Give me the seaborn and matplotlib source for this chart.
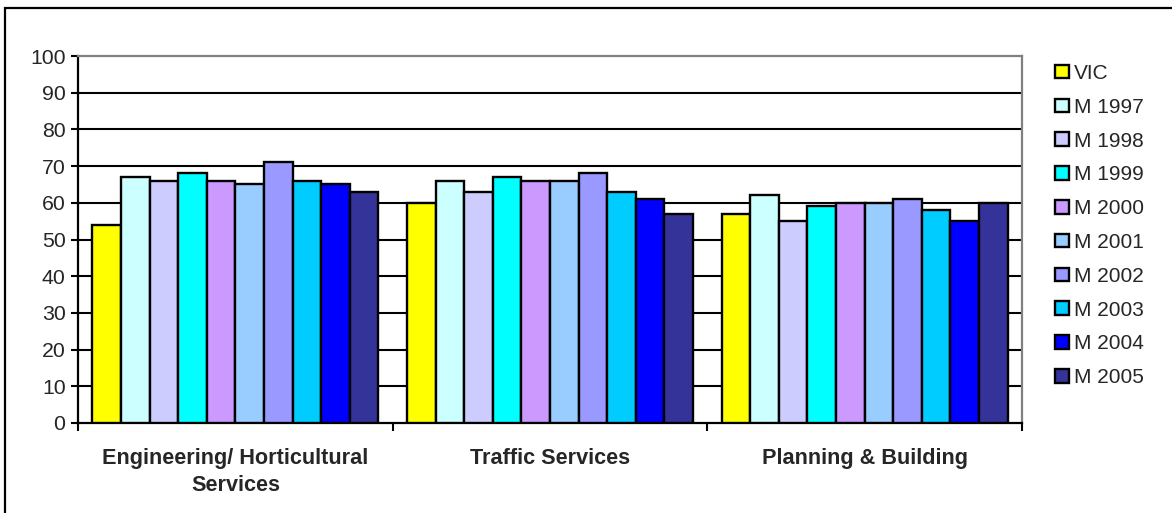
import matplotlib
matplotlib.use("Agg")
import matplotlib.pyplot as plt
from matplotlib.patches import Rectangle
import seaborn as sns
import pandas as pd

# Service categories (x axis) and survey series (hue)
categories = ["Engineering/ Horticultural\nServices", "Traffic Services", "Planning & Building"]
series = ["VIC", "M 1997", "M 1998", "M 1999", "M 2000",
          "M 2001", "M 2002", "M 2003", "M 2004", "M 2005"]

# Scores per series, one value per category
vic = [54, 60, 57]
m1997 = [67, 66, 62]
m1998 = [66, 63, 55]
m1999 = [68, 67, 59]
m2000 = [66, 66, 60]
m2001 = [65, 66, 60]
m2002 = [71, 68, 61]
m2003 = [66, 63, 58]
m2004 = [65, 61, 55]
m2005 = [63, 57, 60]

colors = ["#FFFF00", "#CCFFFF", "#CCCCFF", "#00FFFF", "#CC99FF",
          "#99CCFF", "#9999FF", "#00CCFF", "#0000FF", "#333399"]

y_ticks = [0, 10, 20, 30, 40, 50, 60, 70, 80, 90, 100]

values = [vic, m1997, m1998, m1999, m2000, m2001, m2002, m2003, m2004, m2005]
rows = []
for name, vals in zip(series, values):
    for cat, v in zip(categories, vals):
        rows.append({"category": cat, "series": name, "value": v})
df = pd.DataFrame(rows)

sns.set_theme(style="white")
plt.rcParams["font.family"] = ["Liberation Sans", "DejaVu Sans"]

W, H = 1172, 513
fig = plt.figure(figsize=(W / 100, H / 100), dpi=100)
fig.patch.set_facecolor("white")

left, right, top, bottom = 78, 1022, 56, 423
ax = fig.add_axes([left / W, 1 - bottom / H, (right - left) / W, (bottom - top) / H])

sns.barplot(data=df, x="category", y="value", hue="series", order=categories,
            hue_order=series, palette=colors, saturation=1, width=10 / 11,
            edgecolor="black", linewidth=1.7, ax=ax, legend=True, zorder=3)

ax.set_ylim(0, 100)
ax.set_xlim(-0.5, 2.5)
ax.set_yticks(y_ticks)
ax.set_xlabel("")
ax.set_ylabel("")

# horizontal gridlines
for v in y_ticks[1:-1]:
    ax.axhline(v, color="black", lw=1.5, zorder=1)

ax.spines["left"].set_color("black")
ax.spines["bottom"].set_color("black")
ax.spines["left"].set_linewidth(1.6)
ax.spines["bottom"].set_linewidth(1.6)
ax.spines["top"].set_color("#808080")
ax.spines["right"].set_color("#808080")
ax.spines["top"].set_linewidth(1.6)
ax.spines["right"].set_linewidth(1.6)
ax.spines["top"].set_zorder(5)

ax.tick_params(axis="y", which="major", direction="out", length=5, width=1.5,
               color="black", labelsize=15.3, pad=4, left=True)
ax.set_xticks([0, 1, 2])
ax.set_xticklabels(categories, fontsize=15.6, fontweight="bold", linespacing=1.4)
ax.tick_params(axis="x", which="major", length=0, pad=18)
ax.set_xticks([-0.5, 0.5, 1.5, 2.5], minor=True)
ax.tick_params(axis="x", which="minor", direction="out", length=6, width=1.5,
               color="black", bottom=True)

# legend on the right
handles, labels = ax.get_legend_handles_labels()
ax.get_legend().remove()
fig.legend(handles, labels, loc="upper left", bbox_to_anchor=(1055 / W, 1 - 64 / H),
           frameon=False, fontsize=15.0, handlelength=0.68, handleheight=0.63,
           handletextpad=0.25, labelspacing=0.71, borderpad=0, borderaxespad=0)

# outer chart frame
fig.patches.append(Rectangle((5 / W, -0.1), 1.2, 1 - 8 / H + 0.1, transform=fig.transFigure,
                             fill=False, edgecolor="black", lw=1.6, zorder=10))

fig.savefig("out.png", dpi=100, facecolor="white")
